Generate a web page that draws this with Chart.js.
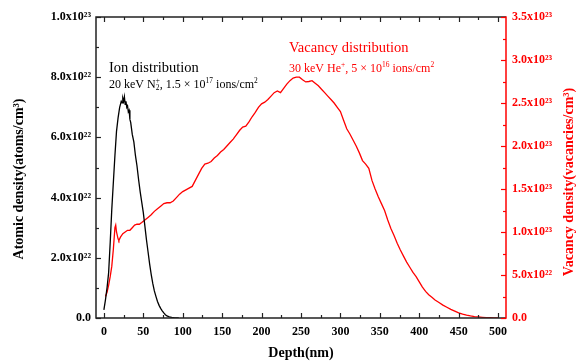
<!DOCTYPE html>
<html>
<head>
<meta charset="utf-8">
<script src="https://cdn.jsdelivr.net/npm/chart.js@4.4.1/dist/chart.umd.min.js"></script>
<style>
html,body{margin:0;padding:0;background:#fff;}
#wrap{width:581px;height:363px;position:relative;}
</style>
</head>
<body>
<div id="wrap"><canvas id="c" width="581" height="363"></canvas></div>
<script>
// ---- data ----
// Ion distribution (left axis), values in units of 1e22 atoms/cm^3
const ionDepth = [0, 2, 4, 6, 8, 10, 12, 14, 16, 18, 20, 21, 22, 23, 24, 25, 26, 27, 28, 29, 30, 31, 32, 33, 34, 35, 36, 38, 40, 42, 44, 46, 48, 50, 52, 54, 56, 58, 60, 62, 64, 66, 68, 70, 72, 74, 76, 78, 80, 83, 86, 90, 95];
const ionDensity = [0.27, 0.6, 1.0, 1.5, 2.5, 3.6, 4.5, 5.4, 6.2, 6.65, 7.0, 7.1, 7.2, 7.15, 7.3, 7.2, 7.35, 7.1, 7.2, 7.0, 7.05, 6.85, 6.9, 6.6, 6.5, 6.3, 6.1, 5.85, 5.4, 5.05, 4.6, 4.2, 3.85, 3.5, 3.05, 2.6, 2.2, 1.8, 1.45, 1.15, 0.9, 0.72, 0.55, 0.42, 0.32, 0.24, 0.17, 0.11, 0.07, 0.04, 0.02, 0.005, 0];
// Vacancy distribution (right axis), values in units of 1e23 vacancies/cm^3
const vacDepth = [2, 4, 6, 8, 10, 12, 14, 15, 16, 18, 19, 21, 24, 27, 30, 33, 36, 39, 42, 45, 48, 52, 56, 60, 64, 68, 72, 76, 80, 84, 88, 92, 96, 100, 104, 108, 112, 116, 120, 124, 128, 132, 136, 140, 144, 148, 152, 156, 160, 164, 168, 172, 176, 180, 184, 188, 192, 196, 200, 204, 208, 212, 216, 220, 224, 228, 232, 236, 240, 244, 248, 252, 256, 260, 264, 268, 272, 276, 280, 284, 288, 292, 296, 300, 304, 308, 312, 316, 320, 324, 328, 332, 336, 340, 344, 348, 352, 356, 360, 364, 368, 372, 376, 380, 384, 388, 392, 396, 400, 404, 408, 412, 416, 420, 425, 430, 435, 440, 445, 450, 455, 460, 465, 470, 475, 480, 485, 490, 495, 500];
const vacDensity = [0.25, 0.3, 0.38, 0.48, 0.6, 0.8, 1.05, 1.08, 1.0, 0.92, 0.9, 0.94, 0.98, 1.0, 1.02, 1.02, 1.05, 1.08, 1.09, 1.09, 1.11, 1.14, 1.17, 1.2, 1.24, 1.27, 1.3, 1.33, 1.34, 1.34, 1.36, 1.4, 1.44, 1.47, 1.49, 1.51, 1.53, 1.6, 1.67, 1.74, 1.79, 1.8, 1.82, 1.86, 1.89, 1.93, 1.96, 2.0, 2.04, 2.08, 2.13, 2.18, 2.22, 2.23, 2.28, 2.34, 2.39, 2.45, 2.49, 2.51, 2.54, 2.58, 2.62, 2.64, 2.62, 2.67, 2.72, 2.76, 2.79, 2.8, 2.8, 2.77, 2.745, 2.75, 2.76, 2.73, 2.7, 2.66, 2.62, 2.58, 2.54, 2.5, 2.45, 2.4, 2.3, 2.2, 2.14, 2.07, 2.0, 1.92, 1.83, 1.79, 1.74, 1.6, 1.5, 1.41, 1.33, 1.25, 1.14, 1.04, 0.96, 0.87, 0.79, 0.72, 0.65, 0.59, 0.53, 0.48, 0.42, 0.36, 0.31, 0.27, 0.24, 0.21, 0.18, 0.15, 0.125, 0.1, 0.08, 0.06, 0.045, 0.033, 0.024, 0.017, 0.012, 0.008, 0.005, 0.003, 0.001, 0];
// tick values
const xTicks = [0, 50, 100, 150, 200, 250, 300, 350, 400, 450, 500];
const xMinorTicks = [25, 75, 125, 175, 225, 275, 325, 375, 425, 475];
const leftTicks = [0, 2e22, 4e22, 6e22, 8e22, 1e23];
const leftMinorTicks = [1e22, 3e22, 5e22, 7e22, 9e22];
const rightTicks = [0, 5e22, 1e23, 1.5e23, 2e23, 2.5e23, 3e23, 3.5e23];
const rightMinorTicks = [2.5e22, 7.5e22, 1.25e23, 1.75e23, 2.25e23, 2.75e23, 3.25e23];

const RED = '#ff0000';
const SERIF = "'Liberation Serif','Times New Roman',serif";
const SUP = {'0':'⁰','1':'¹','2':'²','3':'³','4':'⁴','5':'⁵','6':'⁶','7':'⁷','8':'⁸','9':'⁹'};
function sci(v){
  if (v === 0) return '0.0';
  const e = Math.floor(Math.log10(v) + 1e-9);
  const m = v / Math.pow(10, e);
  return m.toFixed(1) + 'x10' + String(e).split('').map(c => SUP[c]).join('');
}
function setTicks(list){ return s => { s.ticks = list.map(v => ({value: v})); }; }

function richText(ctx, x, y, parts, size, color){
  ctx.fillStyle = color;
  ctx.textBaseline = 'alphabetic';
  ctx.textAlign = 'left';
  let cx = x;
  for (const p of parts){
    if (p.s === 'n'){
      ctx.font = size + 'px ' + SERIF;
      ctx.fillText(p.t, cx, y);
      cx += ctx.measureText(p.t).width;
    } else if (p.s === 'sup'){
      ctx.font = (size*0.62) + 'px ' + SERIF;
      ctx.fillText(p.t, cx, y - size*0.42);
      cx += ctx.measureText(p.t).width;
    } else if (p.s === 'subsup'){
      ctx.font = (size*0.62) + 'px ' + SERIF;
      ctx.fillText(p.b, cx, y + size*0.2);
      ctx.fillText(p.t, cx, y - size*0.42);
      cx += Math.max(ctx.measureText(p.b).width, ctx.measureText(p.t).width);
    }
  }
}

const framePlugin = {
  id: 'frame',
  afterDatasetsDraw(chart){
    const {ctx, chartArea: a, scales} = chart;
    ctx.save();
    ctx.lineWidth = 1.5;
    // frame
    ctx.strokeStyle = '#222';
    ctx.beginPath();
    ctx.moveTo(a.right, a.top); ctx.lineTo(a.left, a.top); ctx.lineTo(a.left, a.bottom); ctx.lineTo(a.right, a.bottom);
    ctx.stroke();
    ctx.strokeStyle = RED;
    ctx.beginPath(); ctx.moveTo(a.right, a.top - 0.75); ctx.lineTo(a.right, a.bottom + 0.75); ctx.stroke();
    // x ticks (bottom and top, inward)
    ctx.strokeStyle = '#222';
    ctx.lineWidth = 1.2;
    const xt = (list, len) => {
      for (const v of list){
        const px = Math.round(scales.x.getPixelForValue(v)) + 0.5;
        ctx.beginPath(); ctx.moveTo(px, a.bottom); ctx.lineTo(px, a.bottom - len); ctx.stroke();
        ctx.beginPath(); ctx.moveTo(px, a.top); ctx.lineTo(px, a.top + len); ctx.stroke();
      }
    };
    xt(xTicks, 5); xt(xMinorTicks, 3);
    const yl = (list, len) => {
      for (const v of list){
        const py = Math.round(scales.y.getPixelForValue(v)) + 0.5;
        ctx.beginPath(); ctx.moveTo(a.left, py); ctx.lineTo(a.left + len, py); ctx.stroke();
      }
    };
    yl(leftTicks, 5); yl(leftMinorTicks, 3);
    ctx.strokeStyle = RED;
    const yr = (list, len) => {
      for (const v of list){
        const py = Math.round(scales.y2.getPixelForValue(v)) + 0.5;
        ctx.beginPath(); ctx.moveTo(a.right, py); ctx.lineTo(a.right - len, py); ctx.stroke();
      }
    };
    yr(rightTicks, 5); yr(rightMinorTicks, 3);

    // axis titles
    ctx.font = 'bold 14px ' + SERIF;
    ctx.textAlign = 'center';
    ctx.textBaseline = 'middle';
    ctx.fillStyle = '#000';
    ctx.save(); ctx.translate(19, 179); ctx.rotate(-Math.PI/2);
    ctx.fillText('Atomic density(atoms/cm³)', 0, 0); ctx.restore();
    ctx.fillStyle = RED;
    ctx.save(); ctx.translate(569, 182); ctx.rotate(-Math.PI/2);
    ctx.fillText('Vacancy density(vacancies/cm³)', 0, 0); ctx.restore();

    // annotations
    richText(ctx, 109, 72, [{s:'n', t:'Ion distribution'}], 14.5, '#000');
    richText(ctx, 109, 88, [{s:'n', t:'20 keV N'}, {s:'subsup', b:'2', t:'+'}, {s:'n', t:', 1.5 × 10'}, {s:'sup', t:'17'}, {s:'n', t:' ions/cm'}, {s:'sup', t:'2'}], 12, '#000');
    richText(ctx, 289, 52, [{s:'n', t:'Vacancy distribution'}], 14.5, RED);
    richText(ctx, 289, 72, [{s:'n', t:'30 keV He'}, {s:'sup', t:'+'}, {s:'n', t:', 5 × 10'}, {s:'sup', t:'16'}, {s:'n', t:' ions/cm'}, {s:'sup', t:'2'}], 12, RED);
    ctx.restore();
  }
};

const ionData = ionDepth.map((d, i) => ({x: d, y: ionDensity[i] * 1e22}));
const vacData = vacDepth.map((d, i) => ({x: d, y: vacDensity[i] * 1e23}));

new Chart(document.getElementById('c'), {
  type: 'scatter',
  data: {
    datasets: [
      {label: 'Ion distribution', data: ionData, yAxisID: 'y', showLine: true, borderColor: '#000', borderWidth: 1.3, pointRadius: 0, tension: 0},
      {label: 'Vacancy distribution', data: vacData, yAxisID: 'y2', showLine: true, borderColor: RED, borderWidth: 1.3, pointRadius: 0, tension: 0}
    ]
  },
  options: {
    responsive: false,
    animation: false,
    events: [],
    layout: {padding: {top: 17, left: 0, right: 0, bottom: 0}},
    plugins: {legend: {display: false}, tooltip: {enabled: false}},
    scales: {
      x: {
        type: 'linear', min: -10, max: 510,
        afterBuildTicks: setTicks(xTicks),
        afterFit: s => { s.height = 45; },
        grid: {display: false, drawTicks: false},
        border: {display: false},
        ticks: {padding: 7, color: '#000', font: {family: SERIF, size: 12, weight: 'bold'}, maxRotation: 0, autoSkip: false},
        title: {display: true, text: 'Depth(nm)', color: '#000', font: {family: SERIF, size: 14, weight: 'bold'}, padding: {top: 0, bottom: 1}}
      },
      y: {
        type: 'linear', position: 'left', min: 0, max: 1e23,
        afterBuildTicks: setTicks(leftTicks),
        afterFit: s => { s.width = 96; },
        grid: {display: false, drawTicks: false},
        border: {display: false},
        ticks: {padding: 5, color: '#000', font: {family: SERIF, size: 12, weight: 'bold'}, callback: v => sci(v), autoSkip: false}
      },
      y2: {
        type: 'linear', position: 'right', min: 0, max: 3.5e23,
        afterBuildTicks: setTicks(rightTicks),
        afterFit: s => { s.width = 75; },
        grid: {display: false, drawTicks: false},
        border: {display: false},
        ticks: {padding: 6, color: RED, font: {family: SERIF, size: 12, weight: 'bold'}, callback: v => sci(v), autoSkip: false}
      }
    }
  },
  plugins: [framePlugin]
});
</script>
</body>
</html>
